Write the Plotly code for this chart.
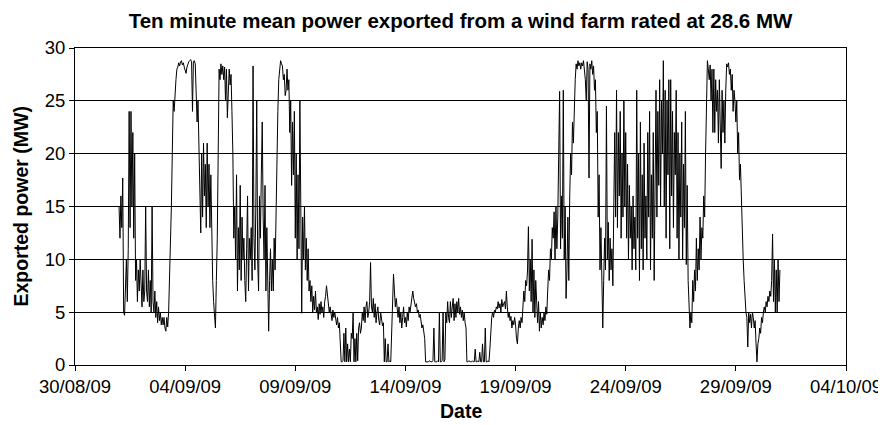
import pandas as pd
import plotly.graph_objects as go

# Ten-minute mean power (MW) at ~1-hour resolution,
# one row per day starting 01/09/09 00:00
power_wk1 = [
    15, 12, 16, 13, 17.7, 5, 4.7, 8, 10, 6, 11, 24, 13, 24, 15, 22, 12, 20, 8, 10, 6, 9, 7, 10,  # 01/09
    8, 5.5, 9, 6, 7, 15, 7, 6, 9, 5.5, 8, 5, 15, 6, 5, 7, 4.5, 6, 4, 5.5, 4.2, 5, 3.8, 4.5,  # 02/09
    3.8, 4.5, 3.5, 3.2, 4.5, 3.6, 5, 8, 10, 15, 20, 25, 24, 26, 27, 28, 28.2, 28.6, 28.3, 28.7, 28.8, 28.4, 28.6, 28.2,  # 03/09
    27.8, 27.6, 28.2, 28.5, 28.7, 28.8, 28.9, 28.7, 24, 28.7, 28.8, 28.5, 26, 23, 25, 21, 19, 12.5, 20, 14, 21, 16, 19, 13,  # 04/09
    21, 15, 19, 13, 18, 10, 8, 6, 5, 3.5, 8, 12, 20, 28, 27, 28.5, 27.5, 28.3, 27, 28.2, 25, 28, 23.4, 27,  # 05/09
    28, 26.5, 27.5, 24, 20, 12, 15, 10, 18, 7, 13, 9, 17, 8, 14, 10, 12, 8, 6, 11, 16, 7, 12, 10,  # 06/09
    13, 8, 28.3, 12, 9, 15, 25, 10, 7, 16, 12, 18, 23, 14, 10, 17, 7, 13, 6, 3.2, 8, 11, 7, 10,  # 07/09
]
power_wk2 = [
    7, 12, 9, 15, 20, 24, 27, 28, 28.8, 28.5, 28.3, 27, 27.5, 25.5, 26, 28, 26, 27, 22, 25, 17, 23, 18, 24,  # 08/09
    12, 20, 10, 18, 11, 25, 15, 4.9, 14, 10, 15, 9, 12, 8, 11, 7, 8, 6, 7.5, 5, 6.5, 5.2, 7, 5,  # 09/09
    5.5, 4.3, 5.8, 4.8, 6, 5, 5.5, 4.5, 6, 6.5, 7.5, 6.5, 6, 5, 5.5, 4.8, 4.2, 5.2, 4.5, 5, 4, 3.8, 4.5, 3.5,  # 10/09
    4, 2.5, 0.3, 0.3, 0.4, 3, 0.3, 3.5, 0.3, 2, 0.3, 1.5, 0.3, 3, 2.5, 5, 0.3, 2.5, 0.3, 3, 0.4, 3.5, 4, 3,  # 11/09
    3.5, 5, 4.2, 5.5, 4, 5.5, 6, 4.5, 5, 6, 9.7, 5.5, 5, 6.3, 4.5, 5.8, 4, 5, 5.5, 4.2, 3.8, 5, 4.5, 3.7,  # 12/09
    4, 0.3, 2.5, 0.3, 0.3, 2, 0.3, 0.4, 0.3, 3, 5, 8.6, 7, 5.5, 6.3, 5, 4.5, 5.5, 4, 5, 3.5, 4.5, 5.5, 4,  # 13/09
    4.5, 3.6, 5, 4.2, 5.5, 5, 5.8, 6, 7, 6.3, 6, 5.5, 5.8, 5, 5.2, 4.5, 4.8, 4, 3.5, 3.8, 3, 2.5, 0.3, 0.3,  # 14/09
]
power_wk3 = [
    0.3, 0.3, 0.4, 0.3, 0.3, 0.3, 0.4, 3.5, 0.3, 0.3, 0.3, 0.4, 0.3, 5, 0.3, 0.3, 0.4, 5, 0.3, 0.5, 5, 4, 6, 4.5,  # 15/09
    4, 6, 4.5, 5.5, 6.3, 4.2, 5.8, 4.5, 6, 5, 6.3, 4.8, 5.5, 4.5, 5.2, 4.2, 5, 4, 3.5, 0.3, 0.3, 0.4, 0.3, 0.3,  # 16/09
    0.3, 0.4, 0.3, 0.3, 1.5, 0.3, 0.3, 0.4, 0.3, 1.2, 0.3, 0.3, 2, 0.3, 0.3, 3.5, 0.3, 0.3, 0.4, 0.3, 1.5, 3.5, 4.5, 5,  # 17/09
    4.5, 5.2, 5, 5.5, 5.3, 6, 5.4, 5.8, 5, 6.2, 5.5, 5.8, 6, 5.3, 7, 5.5, 4.5, 5, 4.2, 4.6, 3.5, 4.2, 3.8, 4.5,  # 18/09
    3.8, 2.5, 2, 3.5, 4.2, 3.5, 4.5, 4, 5.5, 7, 6, 8, 7.5, 8.9, 13.1, 7, 10, 6, 11.9, 5, 9, 4.5, 8, 5,  # 19/09
    4, 6, 3.2, 5, 3.5, 4.5, 3.8, 5, 4.2, 5.5, 4.8, 7, 9, 8, 11, 10, 13, 12, 14.5, 10, 15, 11, 14, 20,  # 20/09
    25.9, 11, 16, 12, 26, 10, 15, 6.3, 9, 14, 8, 16, 20, 18, 23, 21, 25, 27, 28.5, 28, 28.8, 28.3, 28.6, 28,  # 21/09
]
power_wk4 = [
    28.6, 28.3, 28.8, 28, 27, 25, 28.7, 28, 17.7, 28.5, 28, 28.8, 27.5, 28.3, 26, 27, 22, 24, 14, 18, 9, 13, 8, 3.5,  # 22/09
    8, 12, 9, 24.5, 10, 13.5, 8, 12, 9, 11, 7.5, 16, 22, 14, 26, 13, 22, 16, 24, 12, 20, 14, 25, 15,  # 23/09
    22, 12, 19, 10, 17, 12, 15, 9, 16, 11, 14, 9, 26, 12, 20, 8, 23, 11, 18, 9, 21, 12, 16, 10,  # 24/09
    22, 14, 24, 9, 18, 12, 22, 8, 16, 26, 14, 24, 17, 27, 15, 25, 20, 28.8, 15, 26, 12, 25, 18, 27,  # 25/09
    11, 27, 16, 24, 13, 22, 18, 26, 12, 22, 10, 20, 14, 23, 10, 19, 13, 24, 9.5, 17, 8, 6, 3.5, 5,  # 26/09
    4, 8, 6, 9, 7, 12, 8, 11, 9, 14, 10, 13, 12, 16, 14, 20, 26, 28.8, 28, 27, 28.4, 25, 28, 22,  # 27/09
    28, 22, 27, 24, 26, 21, 27, 23, 18.6, 26, 22, 25, 21, 26, 28.5, 28.2, 28.6, 27.5, 28, 26, 27.5, 24, 26, 25,  # 28/09
]
power_wk5 = [
    23, 25, 20, 22, 17.5, 19, 15, 12, 10, 8, 6, 5, 4.5, 1.7, 5, 4, 4.8, 3.5, 5, 4.5, 3.5, 4.2, 2, 0.3,  # 29/09
    2, 2.5, 3.5, 3, 4.5, 4, 5, 5.5, 5, 6, 5.5, 6.5, 6, 7, 6.5, 8, 12.4, 6, 10, 5, 9, 5, 10, 6, 9,  # 30/09
]

start_time = "2009-09-01 00:00"
sample_step = "1h"

x_range = ["2009-08-30", "2009-10-04"]
y_ticks = [0, 5, 10, 15, 20, 25, 30]

title_text = "Ten minute mean power exported from a wind farm rated at 28.6 MW"
x_title = "Date"
y_title = "Exported power (MW)"

power = power_wk1 + power_wk2 + power_wk3 + power_wk4 + power_wk5
times = pd.date_range(start_time, periods=len(power), freq=sample_step)

FONT = "Liberation Sans, Arial, sans-serif"

fig = go.Figure()
fig.add_trace(go.Scatter(
    x=times, y=power, mode="lines",
    line=dict(color="black", width=1),
    hoverinfo="x+y",
))

fig.update_layout(
    width=886, height=425,
    margin=dict(l=67, r=48, t=40, b=68, autoexpand=False),
    paper_bgcolor="white", plot_bgcolor="white",
    showlegend=False,
    font=dict(family=FONT, color="black"),
    title=dict(text="<b>" + title_text + "</b>", x=0.5, xref="paper", xanchor="center",
               y=1 - 13 / 425, yref="container", yanchor="middle",
               font=dict(size=20.5, family=FONT, color="black")),
)

fig.update_xaxes(
    type="date", range=x_range, automargin=False,
    tick0="2009-08-30", dtick=5 * 86400000, tickformat="%d/%m/%y",
    showgrid=False, zeroline=False,
    showline=True, linecolor="black", linewidth=1, mirror=True,
    ticks="outside", ticklen=5, tickcolor="black",
    tickfont=dict(size=18.5, family=FONT, color="black"),
)
fig.update_yaxes(
    range=[0, 30], tickvals=y_ticks, automargin=False,
    showgrid=True, gridcolor="black", gridwidth=1,
    zeroline=False,
    showline=True, linecolor="black", linewidth=1, mirror=True,
    ticks="outside", ticklen=5, tickcolor="black",
    tickfont=dict(size=18.5, family=FONT, color="black"),
)

fig.add_annotation(text="<b>" + y_title + "</b>", textangle=-90,
                   xref="paper", yref="paper", x=(12 - 67) / 771, y=0.5,
                   xanchor="center", yanchor="middle", showarrow=False,
                   font=dict(size=19.5, family=FONT, color="black"))
fig.add_annotation(text="<b>" + x_title + "</b>",
                   xref="paper", yref="paper", x=0.5, y=(357 - 403) / 317,
                   xanchor="center", yanchor="middle", showarrow=False,
                   font=dict(size=19.5, family=FONT, color="black"))

fig.write_html("out.html")
